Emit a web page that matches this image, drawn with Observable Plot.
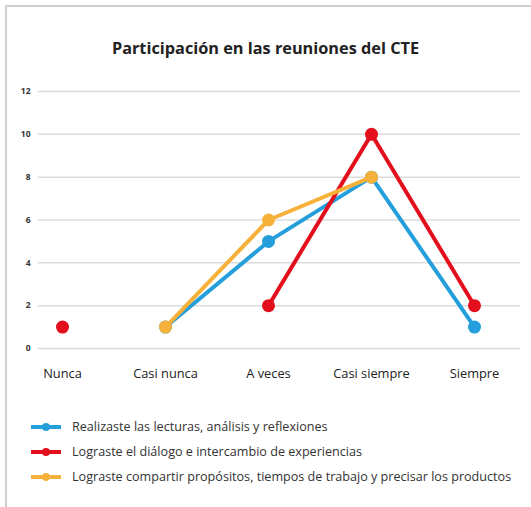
<!DOCTYPE html>
<html>
<head>
<meta charset="utf-8">
<script src="https://cdn.jsdelivr.net/npm/d3@7"></script>
<script src="https://cdn.jsdelivr.net/npm/@observablehq/plot@0.6"></script>
<style>
  html, body { margin: 0; padding: 0; background: #fff; }
  body { width: 531px; height: 507px; position: relative; overflow: hidden; font-family: "Open Sans", sans-serif; }
  #frame { position: absolute; left: 5px; top: 5px; width: 540px; height: 520px; border-top: 2px solid #cfcfcf; border-left: 2px solid #cfcfcf; }
  #title { position: absolute; left: 0; width: 531px; top: 37px; text-align: center; font-size: 16.3px; font-weight: 700; color: #222; }
  #chart { position: absolute; left: 0; top: 70px; }
  #legend { position: absolute; left: 30px; top: 414px; font-size: 12.6px; color: #333; }
  .item { display: flex; align-items: center; height: 25px; white-space: nowrap; }
  .item svg { margin-right: 10px; }
</style>
</head>
<body>
<div id="frame"></div>
<div id="title">Participación en las reuniones del CTE</div>
<div id="chart"></div>
<div id="legend"></div>
<script>
const categories = ["Nunca", "Casi nunca", "A veces", "Casi siempre", "Siempre"];
const seriesNames = [
  "Realizaste las lecturas, análisis y reflexiones",
  "Lograste el diálogo e intercambio de experiencias",
  "Lograste compartir propósitos, tiempos de trabajo y precisar los productos"
];
const blueValues = [null, 1, 5, 8, 1];
const redValues = [1, null, 2, 10, 2];
const yellowValues = [null, 1, 6, 8, null];
const colors = ["#259fdc", "#e30f1d", "#f6b13a"];
const yTicks = [0, 2, 4, 6, 8, 10, 12];

const allValues = [blueValues, redValues, yellowValues];
const data = [];
allValues.forEach((vals, s) => {
  categories.forEach((c, i) => {
    data.push({series: seriesNames[s], cat: c, value: vals[i]});
  });
});

const marks = [
  Plot.gridY(yTicks, {stroke: "#dcdcdc", strokeOpacity: 1, strokeWidth: 1.5})
];
seriesNames.forEach((name, s) => {
  const d = data.filter(r => r.series === name);
  marks.push(Plot.line(d, {x: "cat", y: "value", stroke: colors[s], strokeWidth: 4, curve: "linear"}));
  marks.push(Plot.dot(d.filter(r => r.value != null), {x: "cat", y: "value", fill: colors[s], r: 6.5}));
});
marks.push(Plot.axisY(yTicks, {tickSize: 0, tickPadding: 8, fontSize: 8.5, fontWeight: 700, fill: "#333"}));
marks.push(Plot.axisX({tickSize: 0, tickPadding: 20, fontSize: 12.8, fill: "#222"}));

const plot = Plot.plot({
  width: 531,
  height: 320,
  marginTop: 21,
  marginBottom: 42,
  marginLeft: 38,
  marginRight: 11,
  style: {fontFamily: "Open Sans, sans-serif", background: "transparent"},
  x: {type: "point", domain: categories, range: [62, 474], padding: 0, label: null},
  y: {domain: [0, 12], label: null},
  marks
});
document.getElementById("chart").appendChild(plot);

const legend = document.getElementById("legend");
seriesNames.forEach((name, s) => {
  const div = document.createElement("div");
  div.className = "item";
  div.innerHTML = `<svg width="32" height="10"><line x1="1" y1="5" x2="31" y2="5" stroke="${colors[s]}" stroke-width="4"/><circle cx="16" cy="5" r="4" fill="${colors[s]}"/></svg><span>${name}</span>`;
  legend.appendChild(div);
});
</script>
</body>
</html>
